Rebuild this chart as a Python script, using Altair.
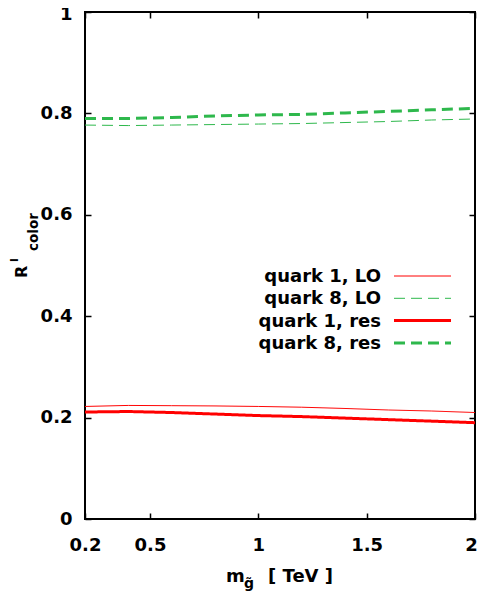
import altair as alt
import pandas as pd

# ---------------- data ----------------
mass = [0.2, 0.4, 0.6, 0.8, 1.0, 1.2, 1.4, 1.6, 1.8, 2.0]
q1_lo = [0.222, 0.224, 0.2235, 0.223, 0.222, 0.2205, 0.218, 0.215, 0.213, 0.210]
q8_lo = [0.777, 0.776, 0.777, 0.778, 0.779, 0.780, 0.782, 0.784, 0.787, 0.789]
q1_res = [0.211, 0.212, 0.210, 0.207, 0.204, 0.202, 0.199, 0.196, 0.193, 0.190]
q8_res = [0.790, 0.790, 0.792, 0.795, 0.797, 0.798, 0.801, 0.804, 0.807, 0.810]

series_names = ["quark 1, LO", "quark 8, LO", "quark 1, res", "quark 8, res"]
series_values = [q1_lo, q8_lo, q1_res, q8_res]
series_colors = ["#ff0000", "#2eb84c", "#ff0000", "#2eb84c"]
series_dash = [[1, 0], [11, 6], [1, 0], [11, 6]]
series_width = [1, 1, 3, 3]

x_ticks = [0.2, 0.5, 1, 1.5, 2]
y_ticks = [0, 0.2, 0.4, 0.6, 0.8, 1]

rows = []
for name, vals in zip(series_names, series_values):
    for m, v in zip(mass, vals):
        rows.append({"series": name, "mass": m, "value": v})
df = pd.DataFrame(rows)

# ---------------- layout ----------------
W, H = 390, 507
X_MIN, X_MAX = 0.2, 2.0
Y_MIN, Y_MAX = 0.0, 1.0
FONT = "DejaVu Sans"


def x_from_px(p):
    return X_MIN + p / W * (X_MAX - X_MIN)


def y_from_px(p):
    return Y_MAX - p / H * (Y_MAX - Y_MIN)


# legend placement (pixels inside plot area)
leg_text_right = 296
leg_line_x1, leg_line_x2 = 309, 366
leg_rows_px = [264, 286.3, 308.6, 331]

legend_df = pd.DataFrame({
    "series": series_names,
    "tx": [x_from_px(leg_text_right)] * 4,
    "lx1": [x_from_px(leg_line_x1)] * 4,
    "lx2": [x_from_px(leg_line_x2)] * 4,
    "ly": [y_from_px(p) for p in leg_rows_px],
})

xs = alt.Scale(domain=[X_MIN, X_MAX], nice=False, zero=False)
ys = alt.Scale(domain=[Y_MIN, Y_MAX], nice=False, zero=False)

color = alt.Color("series:N", scale=alt.Scale(domain=series_names, range=series_colors), legend=None)
dash = alt.StrokeDash("series:N", scale=alt.Scale(domain=series_names, range=series_dash), legend=None)
swidth = alt.StrokeWidth("series:N", scale=alt.Scale(type="ordinal", domain=series_names, range=series_width), legend=None)

x_axis = alt.Axis(
    orient="bottom", values=x_ticks, format="~g", offset=-6, labelPadding=17, labelFlush=False,
    labelOffset={"condition": {"test": "datum.value == 2", "value": -4}, "value": 0},
)
y_axis = alt.Axis(
    orient="left", values=y_ticks, format="~g", offset=-6, labelPadding=13, labelFlush=False,
    labelOffset={"condition": {"test": "datum.value == 1", "value": 2}, "value": 0},
)

lines = alt.Chart(df).mark_line(clip=True).encode(
    x=alt.X("mass:Q", scale=xs, axis=x_axis),
    y=alt.Y("value:Q", scale=ys, axis=y_axis),
    color=color, strokeDash=dash, strokeWidth=swidth, detail="series:N",
    order=alt.Order("mass:Q"),
)

legend_lines = alt.Chart(legend_df).mark_rule().encode(
    x=alt.X("lx1:Q", axis=None), x2="lx2:Q",
    y=alt.Y("ly:Q", axis=None),
    color=color, strokeDash=dash, strokeWidth=swidth,
)

legend_text = alt.Chart(legend_df).mark_text(
    align="right", baseline="middle", dy=1, font=FONT, fontWeight="bold", fontSize=18, color="black"
).encode(
    x=alt.X("tx:Q", axis=alt.Axis(orient="top", values=x_ticks, labels=False, offset=-6)),
    y=alt.Y("ly:Q", axis=alt.Axis(orient="right", values=y_ticks, labels=False, offset=-6)),
    text="series:N",
)

one = pd.DataFrame({"k": [0]})


def label(txt, x, y, size, angle=0, align="left"):
    return alt.Chart(one).mark_text(
        text=txt, align=align, baseline="alphabetic", angle=angle,
        font=FONT, fontWeight="bold", fontSize=size, color="black"
    ).encode(x=alt.value(x), y=alt.value(y))


titles = [
    label("R", -58, 266, 16, angle=270),
    label("l", -67, 250, 11, angle=270),
    label("color", -47, 239, 13.5, angle=270),
    label("m", 141, 570, 18),
    label("g\u0303", 159, 576, 14),
    label("[ TeV ]", 183, 570, 18),
]

chart = alt.layer(lines, legend_lines, legend_text, *titles).resolve_axis(
    x="independent", y="independent"
).properties(
    width=W, height=H,
    autosize=alt.AutoSizeParams(type="none"),
    padding={"left": 77, "top": 4, "right": 2, "bottom": 78},
).configure_view(
    stroke="black", strokeWidth=2
).configure_axis(
    labelFont=FONT, labelFontWeight="bold", labelFontSize=18, labelColor="black",
    tickColor="black", tickWidth=1.5, tickSize=6, domain=False, grid=False, title=None,
)

chart.save("out.html", embed_options={"renderer": "svg", "actions": False})
